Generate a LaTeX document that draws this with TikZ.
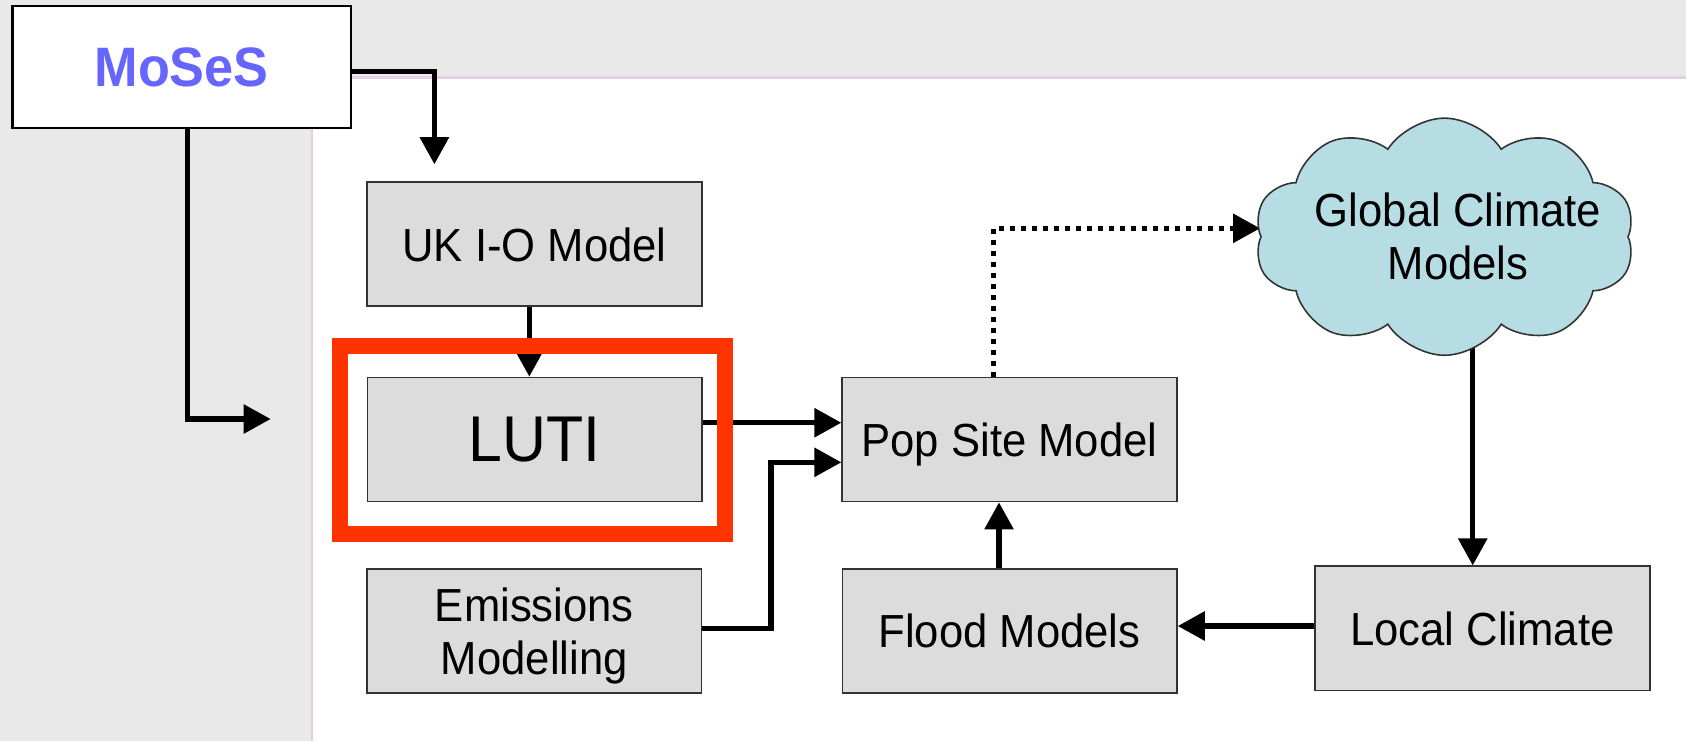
\documentclass[tikz,border=0pt]{standalone}
\usepackage{fontspec}
\setmainfont{Liberation Sans}
\newfontfamily\diagfont[FakeStretch=0.94]{Liberation Sans}
\usetikzlibrary{arrows.meta,shapes.symbols}
\definecolor{pagegray}{HTML}{E9E9E9}
\definecolor{panelpink}{HTML}{E6CFE6}
\definecolor{boxgray}{HTML}{DCDCDC}
\definecolor{boxline}{HTML}{333333}
\definecolor{mosesblue}{HTML}{6666FF}
\definecolor{framered}{HTML}{FF3300}
\definecolor{cloudblue}{HTML}{B6DDE3}
\pgfdeclarelayer{bg}
\pgfdeclarelayer{conn}
\pgfsetlayers{bg,conn,main}
\begin{document}
\begin{tikzpicture}[x=0.01cm,y=-0.01cm,
  modelbox/.style={rectangle, draw=boxline, line width=0.45pt, fill=boxgray,
    minimum width=3.344cm, minimum height=1.24cm, inner sep=0pt,
    text depth=0pt, align=center, font=\diagfont\fontsize{13.2}{15}\selectfont},
  flow/.style={line width=1.55pt, -{Triangle[length=7.7pt,width=8pt]}},
  feedback/.style={flow, dash pattern=on 1.33pt off 1.8pt},
]
\useasboundingbox (0,0) rectangle (1686,741);
\begin{pgfonlayer}{bg}
  \fill[pagegray] (0,0) rectangle (1686,741);
  \fill[white] (312,77.5) rectangle (1686,741);
  \draw[panelpink, line width=0.6pt] (312,741) -- (312,77.5) -- (1686,77.5);
\end{pgfonlayer}

% model boxes
\node[rectangle, draw=black, line width=0.6pt, fill=white, minimum width=3.38cm,
  minimum height=1.217cm, inner sep=0pt, text depth=0pt, text=mosesblue,
  font=\diagfont\bfseries\fontsize{15.8}{18}\selectfont] (moses) at (181.6,66.9) {MoSeS};
\node[modelbox] (uk) at (534.5,244.2) {UK I-O Model};
\node[modelbox, font=\diagfont\fontsize{18.4}{20}\selectfont] (luti) at (534.7,439.5) {LUTI};
\node[modelbox] (emis) at (534.3,631) {Emissions\\Modelling};
\node[modelbox] (pop) at (1009.5,439.5) {Pop Site Model};
\node[modelbox] (flood) at (1009.6,631) {Flood Models};
\node[modelbox] (local) at (1482.5,628.3) {Local Climate};
\node[cloud, cloud puffs=10, cloud puff arc=115, cloud ignores aspect, draw=boxline,
  line width=0.45pt, fill=cloudblue, minimum width=3.80cm, minimum height=2.37cm,
  inner sep=0pt] (cloud) at (1444.5,236.7) {};
\node[align=center, text depth=0pt, inner sep=0pt,
  font=\diagfont\fontsize{13.2}{15}\selectfont] (gcm) at (1458,236) {Global Climate\\Models};

% highlight frame round LUTI
\node[rectangle, draw=framered, line width=4.54pt, minimum width=3.845cm,
  minimum height=1.884cm, inner sep=0pt] (focus) at (532.25,440) {};

% helper coordinates for the connector routes
\coordinate (ukin) at (434.4,164.3);
\coordinate (lutiin) at (270.7,419);
\coordinate (ukx) at (529.3,0);
\coordinate (lutiy) at (0,422.7);
\coordinate (emisbend) at (771,628.3);
\coordinate (emisy) at (0,462.3);
\coordinate (dotx) at (993.3,0);
\coordinate (doty) at (0,228.3);
\coordinate (cloudx) at (1472.7,0);
\coordinate (localy) at (0,626);
\coordinate (floodx) at (999,0);

\begin{pgfonlayer}{conn}
  \draw[flow] (moses.east) ++(0,4.6) -| (ukin);
  \draw[flow] (moses.south) ++(5.7,0) |- (lutiin);
  \draw[flow] (uk.south -| ukx) -- (luti.north -| ukx);
  \draw[flow] (luti.east |- lutiy) -- (pop.west |- lutiy);
  \draw[flow] (emis.east |- emisbend) -- (emisbend) |- (pop.west |- emisy);
  \draw[feedback] (pop.north -| dotx) |- (cloud.west |- doty);
  \draw[flow] (cloud.center -| cloudx) -- (local.north -| cloudx);
  \draw[flow] (local.west |- localy) -- (flood.east |- localy);
  \draw[flow] (flood.north -| floodx) -- (pop.south -| floodx);
\end{pgfonlayer}
\end{tikzpicture}
\end{document}
